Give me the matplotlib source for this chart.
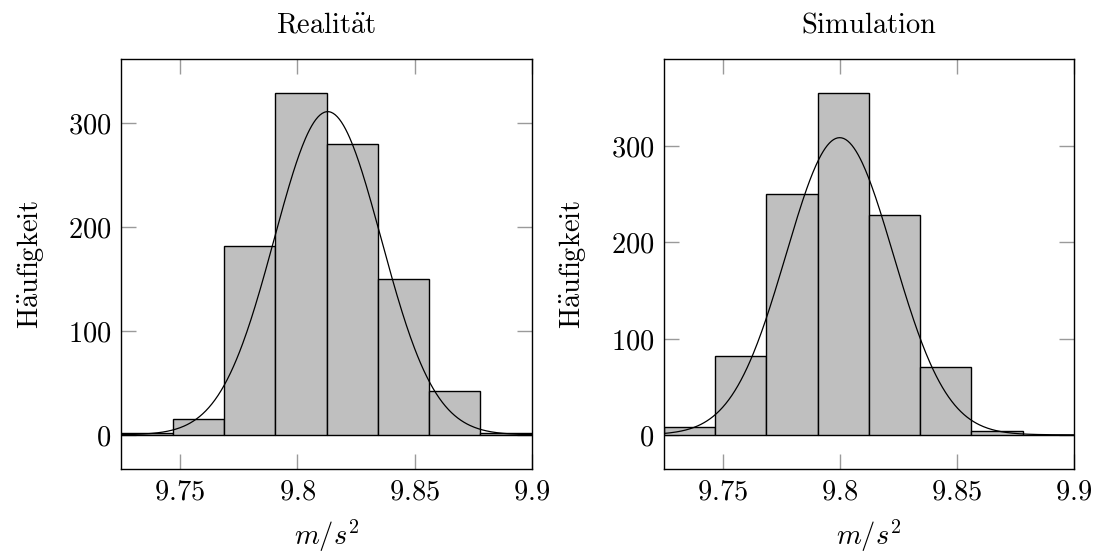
import numpy as np
import matplotlib
matplotlib.use("Agg")
import matplotlib.pyplot as plt

plt.rcParams['mathtext.fontset'] = 'cm'
plt.rcParams['font.family'] = ['DejaVu Serif']

# histogram data (8 bins from 9.725 to 9.9)
bin_edges = [9.725, 9.746875, 9.76875, 9.790625, 9.8125, 9.834375, 9.85625, 9.878125, 9.9]
counts_real = [2, 15, 181, 328, 279, 150, 42, 2]
counts_sim = [8, 82, 250, 355, 229, 71, 4, 0]

# fitted normal curves: mean, std, peak height
mu_real, sigma_real, peak_real = 9.813, 0.0228, 310.5
mu_sim, sigma_sim, peak_sim = 9.800, 0.0229, 309.0

titles = [r'$\mathrm{Realit\ddot{a}t}$', r'$\mathrm{Simulation}$']
ylab = r'$\mathrm{H\ddot{a}ufigkeit}$'
xticks = [9.75, 9.8, 9.85, 9.9]
xticklabels = ['9.75', '9.8', '9.85', '9.9']
yticks = [0, 100, 200, 300]

FS = 20.5
TICKC = '#9a9a9a'


def draw(ax, counts, mu, sigma, peak, title):
    edges = np.array(bin_edges)
    w = np.diff(edges)
    ax.bar(edges[:-1], counts, width=w, align='edge', color='#bfbfbf',
           edgecolor='black', linewidth=1.0, zorder=2)
    x = np.linspace(edges[0], edges[-1], 400)
    y = peak * np.exp(-0.5 * ((x - mu) / sigma) ** 2)
    ax.plot(x, y, color='black', lw=0.9, zorder=3)

    ymax = max(counts)
    ax.set_xlim(edges[0], edges[-1])
    ax.set_ylim(-0.1 * ymax, 1.1 * ymax)

    ax.set_xticks(xticks)
    ax.set_xticklabels(['$%s$' % t for t in xticklabels], fontsize=FS)
    ax.set_yticks(yticks)
    ax.set_yticklabels(['$%d$' % t for t in yticks], fontsize=FS)
    ax.tick_params(direction='in', length=11, width=1, color=TICKC,
                   top=True, right=True, pad=7)
    for s in ax.spines.values():
        s.set_linewidth(1.0)

    ax.set_title(title, fontsize=FS, pad=19)
    ax.set_xlabel('$m/s^2$', fontsize=FS, labelpad=9)
    ax.set_ylabel(ylab, fontsize=FS, labelpad=16)


fig = plt.figure(figsize=(10.96, 5.52), dpi=100)
ax1 = fig.add_axes([0.1107, 0.1504, 0.3745, 0.7422])
ax2 = fig.add_axes([0.6058, 0.1504, 0.3741, 0.7422])

draw(ax1, counts_real, mu_real, sigma_real, peak_real, titles[0])
draw(ax2, counts_sim, mu_sim, sigma_sim, peak_sim, titles[1])

fig.savefig('out.png', dpi=100)
